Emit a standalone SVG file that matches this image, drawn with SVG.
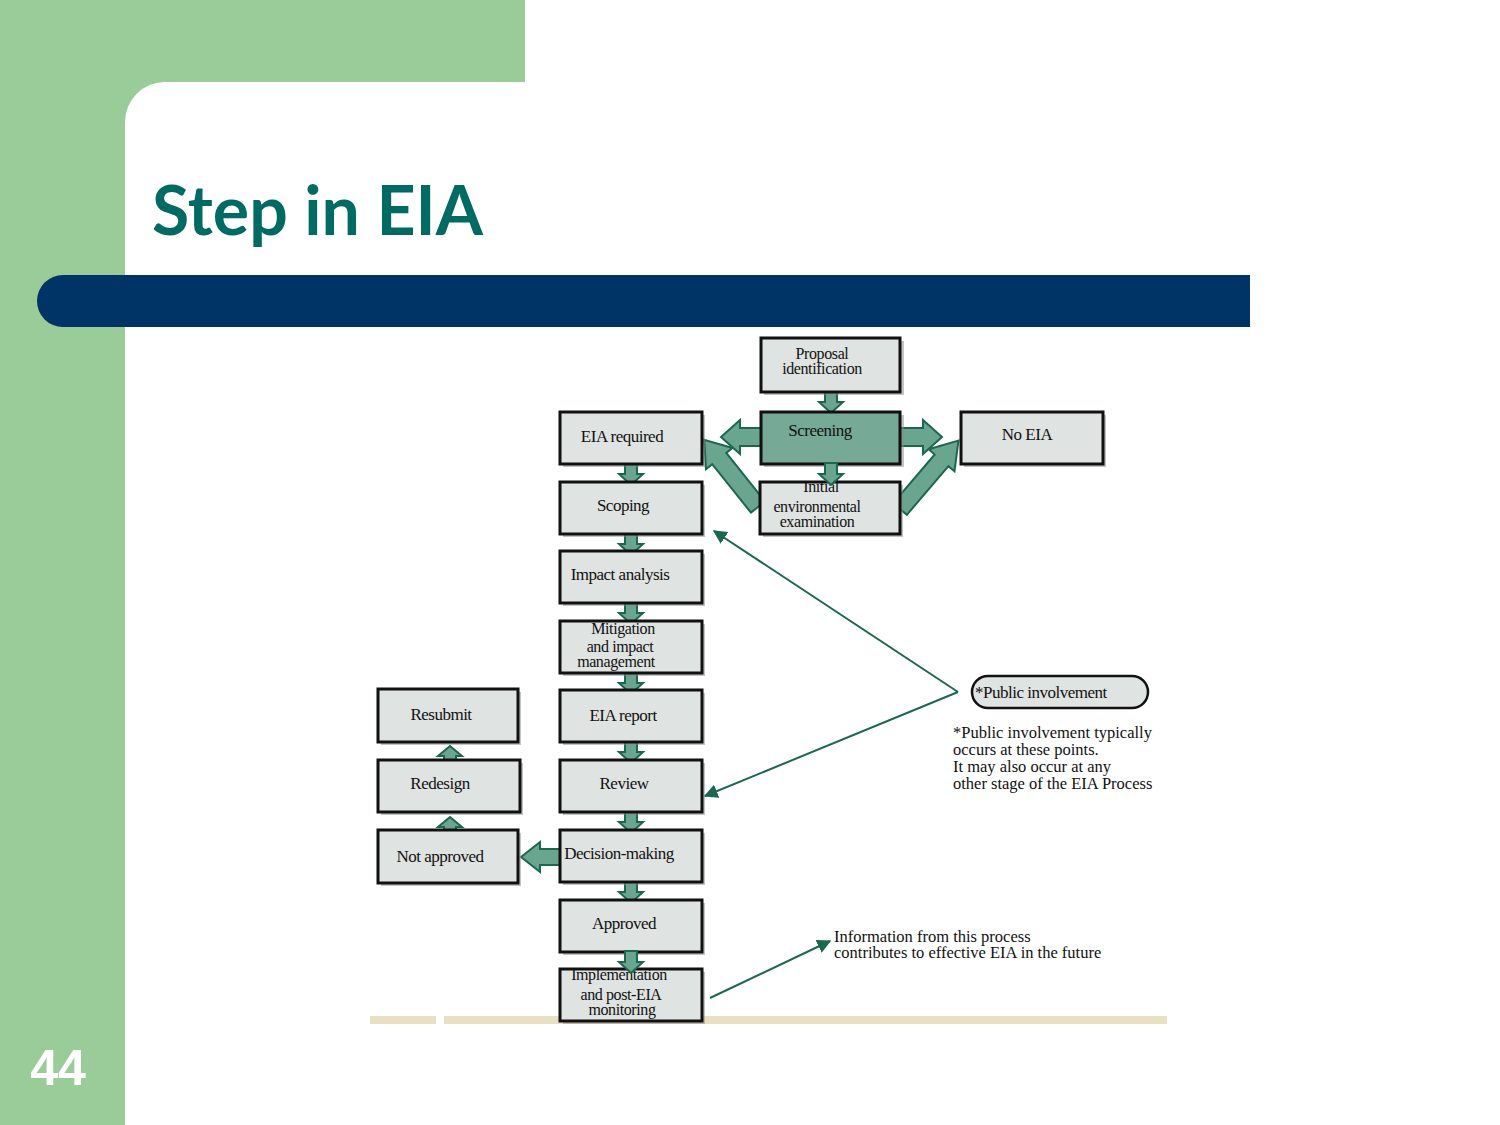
<svg xmlns="http://www.w3.org/2000/svg" width="1500" height="1125" viewBox="0 0 1500 1125">
<style>
.box{fill:#dfe3e1;stroke:#111;stroke-width:3}
.shadow{fill:#8a8a8a;opacity:0.5}
.t{font-family:"Liberation Serif",serif;font-size:17px;letter-spacing:-0.5px;fill:#111;text-anchor:middle}
.tm{font-family:"Liberation Serif",serif;font-size:16px;letter-spacing:-0.4px;fill:#111;text-anchor:middle}
.ts{font-family:"Liberation Serif",serif;font-size:16.5px;letter-spacing:0px;fill:#111}
.blk{fill:#6aa590;stroke:#1d6650;stroke-width:2;stroke-linejoin:miter}
.thin{stroke:#1d6650;stroke-width:2;fill:none;marker-end:url(#ah)}
</style>
<defs>
<marker id="ah" viewBox="0 0 10 10" refX="9" refY="5" markerWidth="14" markerHeight="14" markerUnits="userSpaceOnUse" orient="auto">
<path d="M0,0 L10,5 L0,10 Z" fill="#1d6650"/>
</marker>
<path id="dn" d="M-6,0 H6 V11 H12 L0,22 L-12,11 H-6 Z"/>
<path id="up" d="M-6,12 V7 H-12 L0,-3 L12,7 H6 V12 Z"/>
</defs>
<rect width="1500" height="1125" fill="#fff"/>
<g id="background">
<path d="M0,0 H525 V82 H165 A40,40 0 0 0 125,122 V1125 H0 Z" fill="#99cc99"/>
<path d="M63,275 H1250 V327 H63 A26,26 0 0 1 63,275 Z" fill="#003366"/>
<rect x="370" y="1016" width="66" height="8" fill="#e9e0c2"/>
<rect x="444" y="1016" width="723" height="8" fill="#e9e0c2"/>
<text x="152" y="235" font-family="Lato,'Open Sans',sans-serif" font-weight="bold" font-size="68" fill="#006a63">Step in EIA</text>
<text x="58" y="1085" font-family="'Liberation Sans',sans-serif" font-weight="bold" font-size="50" fill="#fff" text-anchor="middle">44</text>
</g>
<g id="connectors">
<path class="blk" transform="translate(758,507) rotate(-128.7)" d="M0,-9 H62 V-17 L86,0 L62,17 V9 H0 Z"/>
<path class="blk" transform="translate(900,509) rotate(-49.5)" d="M0,-9 H64 V-17 L90,0 L64,17 V9 H0 Z"/>
<path class="blk" d="M762,428 H740 V420 L721,437 L740,454 V446 H762 Z"/>
<path class="blk" d="M899,428 H923 V420 L942,437 L923,454 V446 H899 Z"/>
<path class="blk" d="M562,849 H540 V842 L521,857 L540,872 V865 H562 Z"/>
<use href="#dn" class="blk" x="831" y="391"/>
<use href="#dn" class="blk" x="631" y="463"/>
<use href="#dn" class="blk" x="631" y="533"/>
<use href="#dn" class="blk" x="631" y="602"/>
<use href="#dn" class="blk" x="631" y="672"/>
<use href="#dn" class="blk" x="631" y="741"/>
<use href="#dn" class="blk" x="631" y="811"/>
<use href="#dn" class="blk" x="631" y="881"/>
<use href="#up" class="blk" x="450" y="749"/>
<use href="#up" class="blk" x="450" y="820"/>
<path class="thin" d="M958,692 L714,531"/>
<path class="thin" d="M958,692 L705,796"/>
<path class="thin" d="M710,998 L830,941"/>
</g>
<g id="proposal"><rect class="shadow" x="764" y="341" width="140" height="54"/><rect class="box" x="761" y="338" width="139" height="54"/><text class="tm" x="822" y="359">Proposal</text><text class="tm" x="822" y="374">identification</text></g>
<g id="screening"><rect class="shadow" x="764" y="415" width="140" height="52"/><rect class="box" x="761" y="412" width="139" height="52" style="fill:#76a996"/><text class="t" x="820" y="436">Screening</text></g>
<g id="no-eia"><rect class="shadow" x="964" y="415" width="142" height="52"/><rect class="box" x="961" y="412" width="142" height="52"/><text class="t" x="1027" y="440">No EIA</text></g>
<g id="iee"><rect class="shadow" x="763" y="485" width="140" height="52"/><rect class="box" x="760" y="482" width="140" height="52"/><text class="tm" x="821" y="492">Initial</text><text class="tm" x="817" y="512">environmental</text><text class="tm" x="817" y="527">examination</text></g>
<use href="#dn" class="blk" x="831" y="463"/>
<g id="eia-required"><rect class="shadow" x="563" y="415" width="142" height="52"/><rect class="box" x="560" y="412" width="142" height="52"/><text class="t" x="622" y="442">EIA required</text></g>
<g id="scoping"><rect class="shadow" x="563" y="485" width="142" height="52"/><rect class="box" x="560" y="482" width="142" height="52"/><text class="t" x="623" y="511">Scoping</text></g>
<g id="impact"><rect class="shadow" x="563" y="554" width="142" height="52"/><rect class="box" x="560" y="551" width="142" height="52"/><text class="t" x="620" y="580">Impact analysis</text></g>
<g id="mitigation"><rect class="shadow" x="563" y="624" width="142" height="52"/><rect class="box" x="560" y="621" width="142" height="52"/><text class="tm" x="623" y="634">Mitigation</text><text class="tm" x="620" y="652">and impact</text><text class="tm" x="616" y="667">management</text></g>
<g id="eia-report"><rect class="shadow" x="563" y="693" width="142" height="52"/><rect class="box" x="560" y="690" width="142" height="52"/><text class="t" x="623" y="721">EIA report</text></g>
<g id="review"><rect class="shadow" x="563" y="763" width="142" height="52"/><rect class="box" x="560" y="760" width="142" height="52"/><text class="t" x="624" y="789">Review</text></g>
<g id="decision"><rect class="shadow" x="563" y="833" width="142" height="52"/><rect class="box" x="560" y="830" width="142" height="52"/><text class="t" x="619" y="859">Decision-making</text></g>
<g id="approved"><rect class="shadow" x="563" y="903" width="142" height="52"/><rect class="box" x="560" y="900" width="142" height="52"/><text class="t" x="624" y="929">Approved</text></g>
<g id="implementation"><rect class="shadow" x="563" y="972" width="142" height="52"/><rect class="box" x="560" y="969" width="142" height="52"/><text class="tm" x="619" y="980">Implementation</text><text class="tm" x="621" y="1000">and post-EIA</text><text class="tm" x="622" y="1015">monitoring</text></g>
<use href="#dn" class="blk" x="631" y="951"/>
<g id="resubmit"><rect class="shadow" x="381" y="692" width="140" height="53"/><rect class="box" x="378" y="689" width="140" height="53"/><text class="t" x="441" y="720">Resubmit</text></g>
<g id="redesign"><rect class="shadow" x="381" y="763" width="142" height="52"/><rect class="box" x="378" y="760" width="142" height="52"/><text class="t" x="440" y="789">Redesign</text></g>
<g id="not-approved"><rect class="shadow" x="381" y="833" width="140" height="53"/><rect class="box" x="378" y="830" width="140" height="53"/><text class="t" x="440" y="862">Not approved</text></g>
<g id="public-involvement"><rect class="box" x="972" y="676" width="176" height="32" rx="16" style="stroke-width:2.5"/><text class="ts" x="975" y="698" style="letter-spacing:-0.5px;font-size:17px">*Public involvement</text></g>
<g id="note"><text class="ts" x="953" y="738">*Public involvement typically</text><text class="ts" x="953" y="755">occurs at these points.</text><text class="ts" x="953" y="772">It may also occur at any</text><text class="ts" x="953" y="789">other stage of the EIA Process</text></g>
<g id="info"><text class="ts" x="834" y="942">Information from this process</text><text class="ts" x="834" y="958">contributes to effective EIA in the future</text></g>
</svg>
